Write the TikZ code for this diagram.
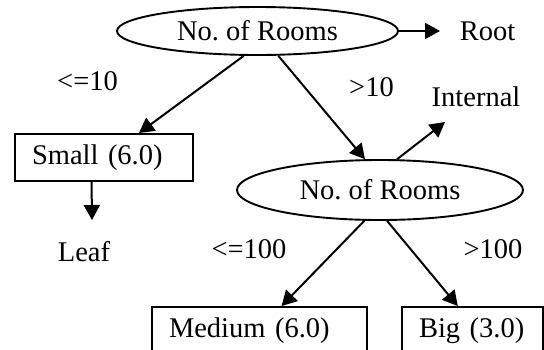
\documentclass[tikz,border=0pt]{standalone}
\usepackage{fontspec}
\setmainfont{Liberation Serif}
\frenchspacing
\usetikzlibrary{shapes.geometric,arrows.meta}
\begin{document}
\begin{tikzpicture}[x=1pt,y=-1pt,
  every node/.style={font=\fontsize{28.5}{34}\selectfont},
  decision/.style={ellipse,draw,line width=1.9pt,inner sep=0pt},
  leafbox/.style={rectangle,draw,line width=1.9pt,inner xsep=17pt,inner ysep=0pt,
                  minimum height=47pt,align=left},
  edge/.style={line width=2pt,-{Triangle[length=15pt,width=16pt]}},
  lbl/.style={inner sep=0pt}]
\useasboundingbox (0,0) rectangle (544,349);
\clip (0,0) rectangle (544,349);

% split nodes
\node[decision,minimum width=281pt,minimum height=48pt] (root) at (257.5,31) {No.\ of Rooms};
\node[decision,minimum width=286pt,minimum height=60pt] (inner) at (380,190) {No.\ of Rooms};

% leaves
\node[leafbox,text width=144pt] (small) at (104,157.5) {Small (6.0)};
\node[leafbox,text width=181pt] (medium) at (259.5,330.5) {Medium (6.0)};
\node[leafbox,text width=107pt] (big) at (472.5,330.5) {Big (3.0)};

% free ends of the annotation arrows
\coordinate (rootend) at (440,31);
\coordinate (internalend) at (445,122);
\coordinate (leafend) at (92,220);

% annotations
\node[lbl] (rootlbl) at (487.5,31) {Root};
\node[lbl] (internallbl) at (476,96.5) {Internal};
\node[lbl] (leaflbl) at (84,252) {Leaf};

% branch conditions
\node[lbl] (c1) at (87.5,81.5) {<=10};
\node[lbl] (c2) at (371.5,87.5) {>10};
\node[lbl] (c3) at (249,249.5) {<=100};
\node[lbl] (c4) at (493,249.5) {>100};

% tree edges
\draw[edge] (root.241) -- (small.35.5);
\draw[edge] (root.310.5) -- (inner.116);
\draw[edge] (inner.243.4) -- (medium.48.9);
\draw[edge] (inner.283) -- (big.121.7);

% annotation arrows
\draw[edge] (root.east) -- (rootend);
\draw[edge] (inner.61) -- (internalend);
\draw[edge] (small.243) -- (leafend);
\end{tikzpicture}
\end{document}
